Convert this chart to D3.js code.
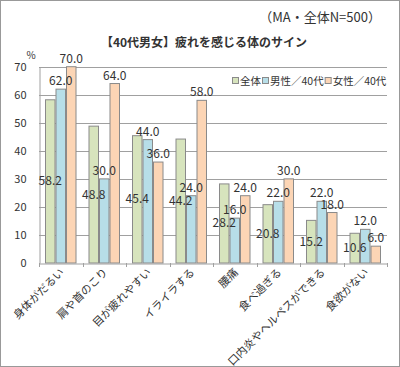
<!DOCTYPE html>
<html><head><meta charset="utf-8">
<script src="https://cdn.jsdelivr.net/npm/d3@7"></script>
<style>
html,body{margin:0;padding:0;background:#fff;}
text{font-family:"Noto Sans CJK JP","Noto Sans",sans-serif;fill:#333;}
</style></head><body>
<svg id="c" width="400" height="367"></svg>
<script>
const categories = ["身体がだるい","肩や首のこり","目が疲れやすい","イライラする","腰痛","食べ過ぎる","口内炎やヘルペスができる","食欲がない"];
const seriesNames = ["全体","男性／40代","女性／40代"];
const allValues = [58.2,48.8,45.4,44.2,28.2,20.8,15.2,10.6];
const maleValues = [62.0,30.0,44.0,24.0,16.0,22.0,22.0,12.0];
const femaleValues = [70.0,64.0,36.0,58.0,24.0,30.0,18.0,6.0];
const yTicks = [0,10,20,30,40,50,60,70];
const colors = ["#d7e4bd","#b7dee8","#fcd5b5"];
const title = "【40代男女】疲れを感じる体のサイン";
const note = "（MA・全体N=500）";

const series = [allValues, maleValues, femaleValues];
const svg = d3.select("#c");
svg.append("rect").attr("x",0.5).attr("y",0.5).attr("width",399).attr("height",366)
  .attr("fill","#fff").attr("stroke","#999").attr("stroke-width",1);

const pL = 39, pR = 387, pT = 66.7, pB = 263;
const x = d3.scaleBand().domain(categories).range([pL,pR]).paddingInner(0).paddingOuter(0);
const x1 = d3.scaleBand().domain(d3.range(3)).range([6, x.bandwidth()-6]).padding(0);
const y = d3.scaleLinear().domain([0,70]).range([pB, pT]);

svg.append("text").attr("x",381).attr("y",22).attr("text-anchor","end")
  .attr("font-size",13).text(note);
svg.append("text").attr("x",204).attr("y",47).attr("text-anchor","middle")
  .attr("font-size",12).attr("font-weight","bold").text(title);

// grid
svg.append("g").selectAll("line").data(yTicks.filter(d=>d>0)).join("line")
  .attr("x1",pL).attr("x2",pR).attr("y1",d=>Math.round(y(d))+0.5).attr("y2",d=>Math.round(y(d))+0.5)
  .attr("stroke","#a0a0a0").attr("stroke-width",1);

// y axis
const yAxis = svg.append("g").attr("transform",`translate(${pL+0.5},0)`)
  .call(d3.axisLeft(y).tickValues(yTicks).tickSize(0).tickPadding(13).tickFormat(d3.format("d")));
yAxis.select(".domain").attr("stroke","#a0a0a0");
yAxis.selectAll("text").attr("font-size",11).attr("fill","#333");
svg.append("text").attr("x",31).attr("y",59).attr("text-anchor","middle").attr("font-size",10).text("%");

// bars
const g = svg.append("g");
categories.forEach((c,i)=>{
  series.forEach((s,k)=>{
    const bx = x(c)+x1(k);
    g.append("rect").attr("x",bx+0.5).attr("y",y(s[i])).attr("width",x1.bandwidth()-1)
      .attr("height",y(0)-y(s[i])).attr("fill",colors[k]).attr("stroke","#8a8a8a").attr("stroke-width",1);
  });
});

// x axis
const xAxis = svg.append("g").attr("transform",`translate(0,${Math.round(pB)+0.5})`)
  .call(d3.axisBottom(x).tickSize(0).tickFormat(""));
xAxis.select(".domain").attr("stroke","#a0a0a0");
svg.append("g").selectAll("line").data(d3.range(categories.length+1)).join("line")
  .attr("x1",i=>Math.round(pL+i*x.bandwidth())+0.5).attr("x2",i=>Math.round(pL+i*x.bandwidth())+0.5)
  .attr("y1",pB).attr("y2",pB+4).attr("stroke","#a0a0a0");

// x labels
svg.append("g").selectAll("text").data(categories).join("text")
  .attr("transform",d=>`translate(${x(d)+x.bandwidth()/2+4},${pB+10}) rotate(-45)`)
  .attr("text-anchor","end").attr("font-size",11).text(d=>d);

// data labels
const lab = svg.append("g");
categories.forEach((c,i)=>{
  series.forEach((s,k)=>{
    const cx = x(c)+x1(k)+x1.bandwidth()/2;
    const yy = k===0 ? (y(s[i])+y(0))/2+4 : y(s[i])-4;
    lab.append("text").attr("x",cx).attr("y",yy).attr("text-anchor","middle")
      .attr("font-size",12).text(d3.format(".1f")(s[i]));
  });
});

// legend
const lg = svg.append("g").attr("transform","translate(232,81)");
let lx = 0;
seriesNames.forEach((n,k)=>{
  lg.append("rect").attr("x",lx+0.5).attr("y",-3.5).attr("width",6).attr("height",6)
    .attr("fill",colors[k]).attr("stroke","#8a8a8a");
  const t = lg.append("text").attr("x",lx+8).attr("y",4).attr("font-size",10.5).text(n);
  lx += 8 + t.node().getComputedTextLength() + 1;
});
</script></body></html>
